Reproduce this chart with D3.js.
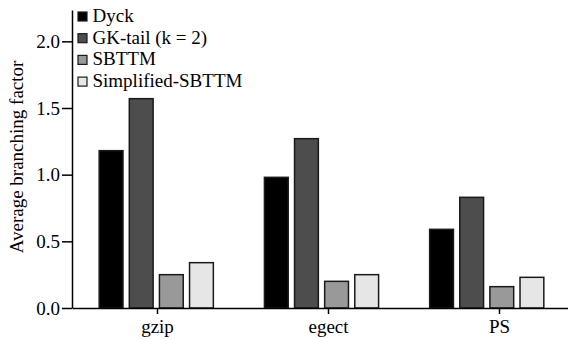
<!DOCTYPE html>
<html><head><meta charset="utf-8">
<script src="https://cdn.jsdelivr.net/npm/d3@7"></script>
<style>
html,body{margin:0;padding:0;background:#fff;}
svg{display:block;}
</style></head>
<body><svg id="c" width="568" height="339"></svg>
<script>
const categories = ["gzip", "egect", "PS"];
const seriesNames = ["Dyck", "GK-tail (k = 2)", "SBTTM", "Simplified-SBTTM"];
const dyck = [1.18, 0.98, 0.59];
const gkTail = [1.57, 1.27, 0.83];
const sbttm = [0.25, 0.20, 0.16];
const simplified = [0.34, 0.25, 0.23];
const yTicks = [0, 0.5, 1.0, 1.5, 2.0];
const colors = ["#000000", "#4d4d4d", "#999999", "#e6e6e6"];
const seriesValues = [dyck, gkTail, sbttm, simplified];

const svg = d3.select("#c");
const FONT = '"Liberation Serif"';
const fs = "19px";
const y = d3.scaleLinear().domain([0, 2.235]).range([308, 10]);
const xTick = d3.scaleBand().domain(categories).range([72, 585]);
const xBars = d3.scaleBand().domain(categories).range([72, 571]).paddingInner(0.3).paddingOuter(0.16);
const xInner = d3.scaleBand().domain(seriesNames).range([0, xBars.bandwidth()]).paddingInner(0.16);

const data = [];
categories.forEach((c, i) => seriesNames.forEach((s, j) => data.push({c, s, j, v: seriesValues[j][i]})));

svg.append("g").selectAll("rect").data(data).join("rect")
  .attr("x", d => xBars(d.c) + xInner(d.s) + 0.75)
  .attr("y", d => y(d.v))
  .attr("width", xInner.bandwidth() - 1.5)
  .attr("height", d => y(0) - y(d.v))
  .attr("fill", d => colors[d.j])
  .attr("stroke", "#1a1a1a")
  .attr("stroke-width", 1.5);

const gy = svg.append("g").attr("transform", "translate(72,0)")
  .call(d3.axisLeft(y).tickValues(yTicks).tickFormat(d3.format(".1f")).tickSize(10).tickSizeOuter(0).tickPadding(2));
const gx = svg.append("g").attr("transform", "translate(0,308)")
  .call(d3.axisBottom(xTick).tickSize(6).tickSizeOuter(0).tickPadding(4));
[gy, gx].forEach(g => {
  g.selectAll("path,line").attr("stroke", "#000").attr("stroke-width", 1.5);
  g.selectAll("text").style("font-family", FONT).style("font-size", fs).attr("fill", "#000");
});
gy.selectAll("text").attr("dy", "0.33em");
gx.selectAll("text").attr("dy", "0.78em");

svg.append("text")
  .attr("transform", "translate(23,157) rotate(-90)")
  .attr("text-anchor", "middle")
  .style("font-family", FONT).style("font-size", fs)
  .text("Average branching factor");

const leg = svg.append("g").selectAll("g").data(seriesNames).join("g")
  .attr("transform", (d, i) => `translate(78,${12 + i * 21.7})`);
leg.append("rect").attr("width", 9).attr("height", 9)
  .attr("fill", (d, i) => colors[i]).attr("stroke", "#1a1a1a").attr("stroke-width", 1.2);
leg.append("text").attr("x", 14.5).attr("y", 10)
  .style("font-family", FONT).style("font-size", fs).text(d => d);
</script></body></html>
